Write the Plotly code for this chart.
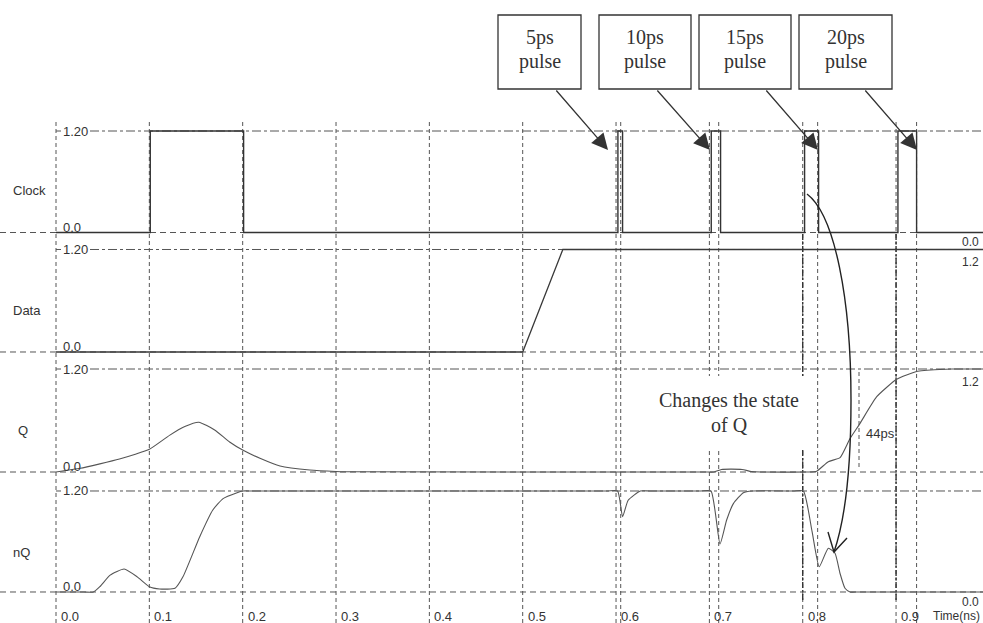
import plotly.graph_objects as go

W, H = 983, 623

# ---------------- data ----------------
time_ticks = [0.0, 0.1, 0.2, 0.3, 0.4, 0.5, 0.6, 0.7, 0.8, 0.9]
tick_labels = ["0.0", "0.1", "0.2", "0.3", "0.4", "0.5", "0.6", "0.7", "0.8", "0.9"]
pulse_end_lines = [0.605, 0.71, 0.816, 0.922]

signal_names = ["Clock", "Data", "Q", "nQ"]
right_labels = ["0.0", "1.2", "1.2", "0.0"]
pulse_names = ["5ps", "10ps", "15ps", "20ps"]

clock_t = [0.0, 0.101, 0.201, 0.602, 0.607, 0.702, 0.712, 0.802, 0.817, 0.902, 0.922, 1.0]
clock_v = [0.0, 1.2, 0.0, 1.2, 0.0, 1.2, 0.0, 1.2, 0.0, 1.2, 0.0, 0.0]

data_t = [0.0, 0.5, 0.543, 1.0]
data_v = [0.0, 0.0, 1.2, 1.2]

q_t = [0.0, 0.026, 0.047, 0.068, 0.085, 0.1, 0.122, 0.138, 0.153, 0.17, 0.186, 0.2,
       0.2185, 0.24, 0.272, 0.3, 0.31, 0.695, 0.705, 0.713, 0.735, 0.745, 0.755, 0.805,
       0.815, 0.8274, 0.84, 0.8507, 0.8614, 0.8793, 0.9007, 0.9221, 0.947, 0.96, 1.0]
q_v = [0.0, 0.043, 0.095, 0.151, 0.206, 0.264, 0.43, 0.53, 0.58, 0.49, 0.35, 0.256,
       0.16, 0.07, 0.023, 0.006, 0.003, 0.0, 0.0, 0.03, 0.03, 0.005, 0.0, 0.0,
       0.01, 0.12, 0.167, 0.39, 0.567, 0.877, 1.08, 1.17, 1.194, 1.2, 1.2]

nq_t = [0.0, 0.03, 0.04, 0.047, 0.058, 0.073, 0.087, 0.1, 0.111, 0.1275, 0.136, 0.154, 0.168,
        0.179, 0.194, 0.2, 0.21, 0.59, 0.6017, 0.607, 0.613, 0.626, 0.636, 0.69, 0.7017,
        0.7114, 0.7185, 0.7257, 0.7364, 0.746, 0.79, 0.8007, 0.81, 0.8177, 0.8274, 0.8346,
        0.84, 0.8453, 0.8507, 0.86, 1.0]
nq_v = [0.0, 0.0, 0.0, 0.063, 0.20, 0.273, 0.18, 0.063, 0.036, 0.044, 0.18, 0.657, 0.974,
        1.11, 1.18, 1.2, 1.2, 1.2, 1.2, 0.895, 1.09, 1.2, 1.2, 1.2, 1.2,
        0.57, 0.855, 1.05, 1.18, 1.2, 1.2, 1.2, 0.72, 0.30, 0.52, 0.46,
        0.22, 0.044, 0.0, 0.0, 0.0]

# ---------------- layout helpers ----------------
X0PX, XSCALE = 56.0, 933.4           # pixel of t=0 and pixels per ns
panel_px = [(232.5, 131.0), (352.0, 249.5), (472.0, 369.0), (592.0, 491.0)]  # (0.0 px, 1.20 px)
PAD = 0.08

def px(x):
    return x / W

def py(y):
    return 1 - y / H

SANS = "Liberation Sans, Arial, sans-serif"
SERIF = "Liberation Serif, Times New Roman, serif"
TXT = "#333333"
GRID = "#555555"

fig = go.Figure()

series = [(clock_t, clock_v, "hv", "#333333", 1.4),
          (data_t, data_v, "linear", "#3a3a3a", 1.3),
          (q_t, q_v, "spline", "#555555", 1.1),
          (nq_t, nq_v, "spline", "#555555", 1.1)]

layout_axes = {}
for i, ((t, v, shp, col, wid), (y0p, y12p)) in enumerate(zip(series, panel_px)):
    yname = "y" if i == 0 else f"y{i+1}"
    lkey = "yaxis" if i == 0 else f"yaxis{i+1}"
    ppu = (y0p - y12p) / 1.2
    bottom = y0p + PAD * ppu
    top = y12p - PAD * ppu
    layout_axes[lkey] = dict(domain=[py(bottom), py(top)], range=[-PAD, 1.2 + PAD],
                             visible=False, anchor="x", fixedrange=True)
    line = dict(color=col, width=wid, shape=shp)
    if shp == "spline":
        line["smoothing"] = 0.5
    fig.add_trace(go.Scatter(x=t, y=v, mode="lines", line=line, xaxis="x", yaxis=yname,
                             hoverinfo="skip", showlegend=False))

shapes = []
annotations = []

# vertical grid lines
for tv in time_ticks:
    shapes.append(dict(type="line", xref="x", yref="paper", x0=tv, x1=tv, y0=0, y1=py(120),
                       line=dict(color=GRID, width=1, dash="4px,3px"), layer="below"))
for tv in pulse_end_lines:
    shapes.append(dict(type="line", xref="x", yref="paper", x0=tv, x1=tv, y0=0, y1=py(120),
                       line=dict(color=GRID, width=1, dash="4px,3px"), layer="below"))
for tv in [0.8, 0.9]:
    shapes.append(dict(type="line", xref="x", yref="paper", x0=tv, x1=tv, y0=py(600), y1=py(233),
                       line=dict(color="#333333", width=1.4, dash="6px,2px,2px,2px"), layer="below"))

# horizontal level lines + labels
for i, name in enumerate(signal_names):
    yname = "y" if i == 0 else f"y{i+1}"
    shapes.append(dict(type="line", xref="paper", yref=yname, x0=0, x1=1, y0=0, y1=0,
                       line=dict(color=GRID, width=1, dash="6px,4px"), layer="below"))
    shapes.append(dict(type="line", xref="paper", yref=yname, x0=px(90), x1=1, y0=1.2, y1=1.2,
                       line=dict(color=GRID, width=1, dash="9px,3px,3px,3px"), layer="below"))
    shapes.append(dict(type="line", xref="paper", yref=yname, x0=px(56), x1=px(61), y0=1.2, y1=1.2,
                       line=dict(color=GRID, width=1), layer="below"))
    annotations.append(dict(xref="paper", yref=yname, x=px(61), y=1.2, text="1.20",
                            xanchor="left", yanchor="middle", showarrow=False,
                            font=dict(family=SANS, size=13, color=TXT)))
    annotations.append(dict(xref="paper", yref=yname, x=px(61), y=0, text="0.0",
                            xanchor="left", yanchor="bottom", yshift=-4, showarrow=False,
                            font=dict(family=SANS, size=13, color=TXT)))

# signal names on the left
name_pos = [(11, 190.5), (11, 310.5), (16, 430.5), (11, 552)]
for name, (nx, ny) in zip(signal_names, name_pos):
    annotations.append(dict(xref="paper", yref="paper", x=px(nx), y=py(ny), text=name,
                            xanchor="left", yanchor="middle", showarrow=False,
                            font=dict(family=SANS, size=13, color=TXT)))

# right side end values
right_y = [242, 262, 382, 602]
for lab, ry in zip(right_labels, right_y):
    annotations.append(dict(xref="paper", yref="paper", x=px(981), y=py(ry), text=lab,
                            xanchor="right", yanchor="middle", showarrow=False,
                            font=dict(family=SANS, size=12, color=TXT)))

# time axis labels
for tv, lab in zip(time_ticks, tick_labels):
    annotations.append(dict(xref="x", yref="paper", x=tv, y=py(607), text=lab,
                            xanchor="left", xshift=3, yanchor="top", showarrow=False,
                            font=dict(family=SANS, size=13, color=TXT)))
annotations.append(dict(xref="paper", yref="paper", x=px(982), y=py(607), text="Time(ns)",
                        xanchor="right", yanchor="top", showarrow=False,
                        font=dict(family=SANS, size=12, color=TXT)))

# pulse boxes with arrows
box_x = [(498, 581), (599, 691), (699, 791), (799, 892)]
arrow_start = [(555, 89), (656, 89), (765, 89), (864, 89)]
arrow_tip = [(608, 150), (710, 150), (818, 150), (917, 150)]
for name, (bx0, bx1), (sx, sy), (tx, ty) in zip(pulse_names, box_x, arrow_start, arrow_tip):
    shapes.append(dict(type="rect", xref="paper", yref="paper", x0=px(bx0), x1=px(bx1),
                       y0=py(89), y1=py(15), line=dict(color="#333333", width=1.3),
                       fillcolor="white", layer="above"))
    cx = (bx0 + bx1) / 2
    annotations.append(dict(xref="paper", yref="paper", x=px(cx), y=py(37.5), text=name,
                            xanchor="center", yanchor="middle", showarrow=False,
                            font=dict(family=SERIF, size=20, color=TXT)))
    annotations.append(dict(xref="paper", yref="paper", x=px(cx), y=py(61), text="pulse",
                            xanchor="center", yanchor="middle", showarrow=False,
                            font=dict(family=SERIF, size=20, color=TXT)))
    annotations.append(dict(xref="paper", yref="paper", x=px(tx), y=py(ty), text="",
                            showarrow=True, ax=sx - tx, ay=sy - ty, axref="pixel", ayref="pixel",
                            arrowhead=2, arrowsize=2.5, arrowwidth=1.3, arrowcolor="#333333",
                            standoff=0))

# "Changes the state of Q" note
shapes.append(dict(type="rect", xref="paper", yref="paper", x0=px(645), x1=px(809),
                   y0=py(448), y1=py(376), line=dict(width=0), fillcolor="white", layer="below"))
annotations.append(dict(xref="paper", yref="paper", x=px(729), y=py(400), text="Changes the state",
                        xanchor="center", yanchor="middle", showarrow=False,
                        font=dict(family=SERIF, size=20, color=TXT)))
annotations.append(dict(xref="paper", yref="paper", x=px(729), y=py(425), text="of Q",
                        xanchor="center", yanchor="middle", showarrow=False,
                        font=dict(family=SERIF, size=20, color=TXT)))

# curved arrow
def P(x, y):
    return f"{px(x):.5f},{py(y):.5f}"

curve = (f"M {P(807,194)} C {P(835,215)} {P(851,300)} {P(851,400)} "
         f"C {P(851,470)} {P(845,520)} {P(834,552)}")
shapes.append(dict(type="path", xref="paper", yref="paper", path=curve,
                   line=dict(color="#222222", width=1.4), layer="above"))
shapes.append(dict(type="path", xref="paper", yref="paper",
                   path=f"M {P(828,532)} L {P(834,552)} L {P(847,538)}",
                   line=dict(color="#222222", width=1.4), layer="above"))

# 44ps marker
shapes.append(dict(type="line", xref="paper", yref="paper", x0=px(859), x1=px(859),
                   y0=py(467), y1=py(370), line=dict(color=GRID, width=1, dash="4px,3px"),
                   layer="below"))
annotations.append(dict(xref="paper", yref="paper", x=px(864), y=py(433), text="44ps",
                        xanchor="left", yanchor="middle", showarrow=False,
                        font=dict(family=SANS, size=13, color=TXT)))

fig.update_layout(
    width=W, height=H, autosize=False,
    margin=dict(l=0, r=0, t=0, b=0, pad=0),
    paper_bgcolor="white", plot_bgcolor="rgba(0,0,0,0)",
    showlegend=False,
    xaxis=dict(range=[-X0PX / XSCALE, (W - X0PX) / XSCALE], visible=False, domain=[0, 1],
               anchor="y4", fixedrange=True),
    shapes=shapes, annotations=annotations,
    **layout_axes,
)

fig.write_html("out.html", config={"displayModeBar": False},
               post_script="document.body.style.margin='0px';document.body.style.overflow='hidden';")
